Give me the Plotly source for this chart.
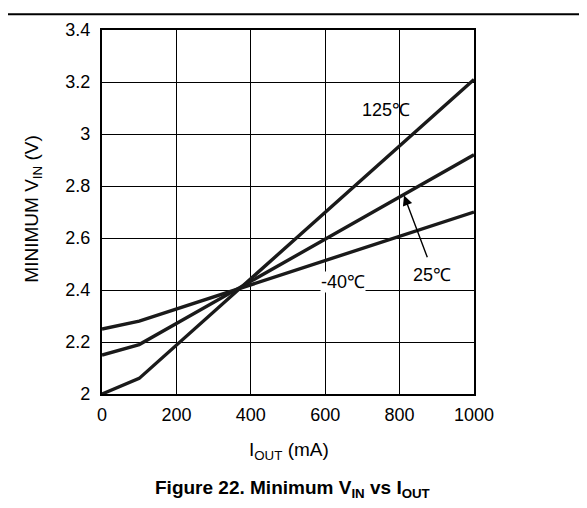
import plotly.graph_objects as go

iout = [0, 100, 1000]
vin_125 = [2.0, 2.06, 3.21]
vin_25 = [2.15, 2.19, 2.92]
vin_m40 = [2.25, 2.28, 2.70]

x_ticks = [0, 200, 400, 600, 800, 1000]
y_ticks = [2, 2.2, 2.4, 2.6, 2.8, 3, 3.2, 3.4]
y_ticktext = ["2", "2.2", "2.4", "2.6", "2.8", "3", "3.2", "3.4"]

FONT = "Liberation Sans, Arial, sans-serif"
TICK = 18
AXT = 19

fig = go.Figure()
for ys in (vin_125, vin_25, vin_m40):
    fig.add_trace(go.Scatter(x=iout, y=ys, mode="lines",
                             line=dict(color="#1a1a1a", width=3.4),
                             showlegend=False, hoverinfo="skip"))

fig.add_annotation(x=763, y=3.093, text="125℃", showarrow=False,
                   font=dict(family=FONT, size=TICK, color="black"))
fig.add_annotation(x=648, y=2.429, text="-40℃", showarrow=False,
                   font=dict(family=FONT, size=TICK, color="black"),
                   bgcolor="white", borderpad=0)
fig.add_annotation(x=887, y=2.459, text="25℃", showarrow=False,
                   font=dict(family=FONT, size=TICK, color="black"))
fig.add_annotation(x=812, y=2.763, ax=876, ay=2.52, axref="x", ayref="y",
                   text="", showarrow=True, arrowhead=2, arrowsize=1.4,
                   arrowwidth=1.4, arrowcolor="black")

fig.add_annotation(x=-0.185, y=0.507, xref="paper", yref="paper",
                   xanchor="center", yanchor="middle",
                   text="MINIMUM V<sub>IN</sub> (V)", textangle=-90,
                   showarrow=False, font=dict(family=FONT, size=AXT, color="black"))
fig.add_annotation(x=0.503, y=-0.157, xref="paper", yref="paper",
                   xanchor="center", yanchor="middle",
                   text="I<sub>OUT</sub> (mA)",
                   showarrow=False, font=dict(family=FONT, size=AXT, color="black"))
fig.add_annotation(x=0.513, y=-0.26, xref="paper", yref="paper",
                   xanchor="center", yanchor="middle",
                   text="<b>Figure 22. Minimum V<sub>IN</sub> vs I<sub>OUT</sub></b>",
                   showarrow=False, font=dict(family=FONT, size=19, color="black"))

fig.add_shape(type="line", xref="paper", yref="paper",
              x0=-0.3, x1=1.35, y0=1.043, y1=1.043,
              line=dict(color="black", width=2))

fig.update_xaxes(range=[0, 1000], tickvals=x_ticks, showgrid=True,
                 gridcolor="black", gridwidth=1, showline=True, mirror=True,
                 linecolor="black", linewidth=2.2, zeroline=False, ticks="",
                 ticklabelstandoff=3,
                 tickfont=dict(family=FONT, size=TICK, color="black"))
fig.update_yaxes(range=[2, 3.4], tickvals=y_ticks, ticktext=y_ticktext,
                 showgrid=True, gridcolor="black", gridwidth=1, showline=True,
                 mirror=True, linecolor="black", linewidth=2.2, zeroline=False,
                 ticks="", ticklabelstandoff=6,
                 tickfont=dict(family=FONT, size=TICK, color="black"))

fig.update_layout(width=587, height=508,
                  margin=dict(l=94, r=121, t=17, b=122),
                  plot_bgcolor="white", paper_bgcolor="white",
                  font=dict(family=FONT, color="black"))

fig.write_html("out.html")
